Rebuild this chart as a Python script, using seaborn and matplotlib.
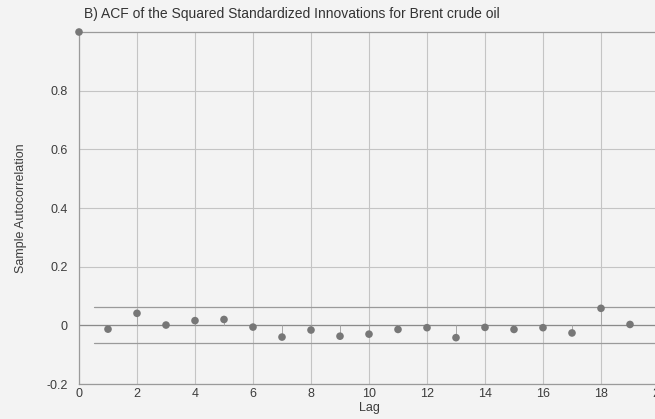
import numpy as np
import pandas as pd
import matplotlib
matplotlib.use("Agg")
import matplotlib.pyplot as plt
import seaborn as sns

# Data
lags = list(range(0, 20))
acf = [1.0, -0.013, 0.041, 0.001, 0.016, 0.020, -0.006, -0.040, -0.016, -0.037,
       -0.030, -0.014, -0.008, -0.042, -0.007, -0.014, -0.008, -0.026, 0.058, 0.003]
bound_upper = 0.063
bound_lower = -0.060
yticks = [-0.2, 0, 0.2, 0.4, 0.6, 0.8]
ytick_labels = ["-0.2", "0", "0.2", "0.4", "0.6", "0.8"]
xticks = [0, 2, 4, 6, 8, 10, 12, 14, 16, 18, 20]

df = pd.DataFrame({"Lag": lags, "ACF": acf})

sns.set_style("white")
plt.rcParams["font.family"] = ["Liberation Sans", "DejaVu Sans"]

bg = "#f3f3f3"
txt = "#3c3c3c"
fig = plt.figure(figsize=(6.55, 4.19), dpi=100, facecolor=bg)
ax = fig.add_axes([79 / 655, 1 - 384 / 419, 580 / 655, 352 / 419])
ax.set_facecolor(bg)

ax.set_xlim(0, 20)
ax.set_ylim(-0.2, 1.0)
ax.set_xticks(xticks)
ax.set_yticks(yticks)
ax.set_yticklabels(ytick_labels)
ax.grid(True, color="#c4c4c4", linewidth=0.8)
ax.set_axisbelow(True)
for sp in ax.spines.values():
    sp.set_color("#9a9a9a")
    sp.set_linewidth(0.9)
ax.tick_params(axis="both", length=0, labelsize=9, colors=txt)
ax.tick_params(axis="x", pad=3)
ax.tick_params(axis="y", pad=8)

# zero baseline and confidence bounds
ax.axhline(0, color="#8a8a8a", linewidth=0.9, zorder=2)
ax.plot([0.5, 20], [bound_upper, bound_upper], color="#9a9a9a", linewidth=0.9, zorder=2)
ax.plot([0.5, 20], [bound_lower, bound_lower], color="#9a9a9a", linewidth=0.9, zorder=2)

# stems
ax.vlines(df["Lag"], 0, df["ACF"], color="#a8a8a8", linewidth=0.7, zorder=2)
sns.scatterplot(data=df, x="Lag", y="ACF", ax=ax, color="#777777", s=30,
                edgecolor="none", zorder=3, clip_on=False)

ax.set_xlabel("Lag", fontsize=9, color=txt, labelpad=1)
ax.set_ylabel("Sample Autocorrelation", fontsize=9, color=txt, labelpad=14)
fig.text(292 / 655, 1 - 14 / 419,
         "B) ACF of the Squared Standardized Innovations for Brent crude oil",
         ha="center", va="center", fontsize=10, color="#333333")

fig.savefig("out.png", dpi=100, facecolor=bg)
